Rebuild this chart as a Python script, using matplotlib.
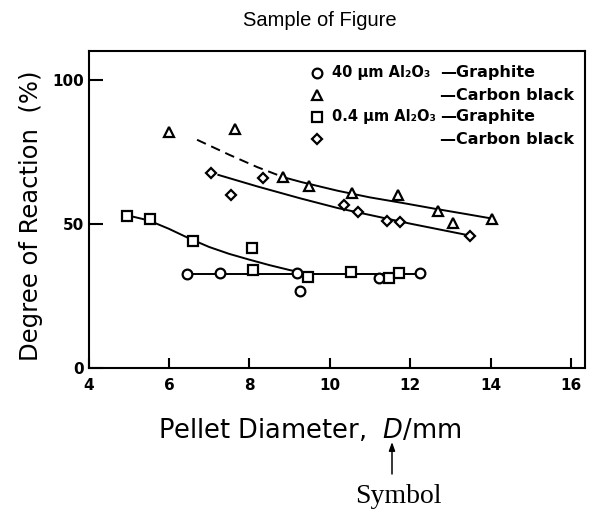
import matplotlib
matplotlib.use("Agg")
import matplotlib.pyplot as plt

# ---- data ----
# 40 um Al2O3 - Graphite (circles)
g40_x = [6.45, 7.28, 9.19, 9.27, 11.22, 12.25]
g40_y = [32.5, 33.1, 33.1, 26.7, 31.3, 32.8]
# 40 um Al2O3 - Carbon black (triangles)
cb40_x = [6.0, 7.64, 8.83, 9.49, 10.56, 11.70, 12.69, 13.07, 14.04]
cb40_y = [81.8, 82.9, 66.2, 63.2, 60.6, 60.1, 54.6, 50.2, 51.6]
# 0.4 um Al2O3 - Graphite (squares)
g04_x = [4.96, 5.54, 6.61, 8.06, 8.10, 9.45, 10.53, 11.48, 11.72]
g04_y = [52.9, 51.7, 43.9, 41.6, 34.0, 31.5, 33.2, 31.3, 32.8]
# 0.4 um Al2O3 - Carbon black (diamonds)
cb04_x = [7.04, 7.55, 8.33, 10.36, 10.71, 11.43, 11.74, 13.48]
cb04_y = [67.8, 60.1, 65.8, 56.4, 54.3, 51.0, 50.5, 45.9]

# trend curves drawn in the figure
fit_g40_x = [6.45, 12.25]
fit_g40_y = [32.5, 32.5]
fit_g04_x = [4.96, 5.5, 6.0, 6.5, 7.0, 7.5, 8.0, 8.5, 9.0, 9.5]
fit_g04_y = [53.0, 51.2, 48.3, 45.0, 42.0, 39.6, 37.6, 35.7, 34.0, 32.6]
fit_cb40_dash_x = [6.7, 7.5, 8.2, 8.85]
fit_cb40_dash_y = [79.2, 74.0, 69.7, 66.2]
fit_cb40_x = [8.85, 9.3, 10.2, 11.0, 11.8, 12.6, 13.4, 14.06]
fit_cb40_y = [66.2, 64.5, 61.5, 59.2, 57.3, 55.3, 53.4, 51.8]
fit_cb04_x = [7.23, 8.2, 9.26, 10.2, 11.3, 12.0, 13.4]
fit_cb04_y = [67.0, 63.0, 58.9, 55.5, 52.2, 50.1, 46.2]

x_ticks = [4, 6, 8, 10, 12, 14, 16]
y_ticks = [0, 50, 100]

legend_rows = [
    ("o", "40 µm Al₂O₃", "—Graphite"),
    ("^", "", "—Carbon black"),
    ("s", "0.4 µm Al₂O₃", "—Graphite"),
    ("D", "", "—Carbon black"),
]

# ---- figure ----
W, H = 589, 509
fig = plt.figure(figsize=(W / 100, H / 100), dpi=100)
L, R, T, B = 88.5, 585, 51, 368
ax = fig.add_axes([L / W, 1 - B / H, (R - L) / W, (B - T) / H])

lw = 1.4
mk = dict(color="black", markerfacecolor="white", markeredgecolor="black",
          markeredgewidth=1.6, linestyle="none", zorder=3)

# curves
ax.plot(fit_g40_x, fit_g40_y, color="black", lw=lw, zorder=2)
ax.plot(fit_g04_x, fit_g04_y, color="black", lw=lw, zorder=2)
ax.plot(fit_cb40_dash_x, fit_cb40_dash_y, color="black", lw=lw,
        linestyle=(0, (5, 3)), zorder=2)
ax.plot(fit_cb40_x, fit_cb40_y, color="black", lw=lw, zorder=2)
ax.plot(fit_cb04_x, fit_cb04_y, color="black", lw=lw, zorder=2)

# markers
ax.plot(g40_x, g40_y, marker="o", markersize=7, **mk)
ax.plot(cb40_x, cb40_y, marker="^", markersize=7.5, **mk)
ax.plot(g04_x, g04_y, marker="s", markersize=7, **mk)
ax.plot(cb04_x, cb04_y, marker="D", markersize=5, **mk)

ax.set_xlim(4, 16.35)
ax.set_ylim(0, 110)
ax.set_xticks(x_ticks)
ax.set_yticks(y_ticks)
ax.set_xticklabels([str(v) for v in x_ticks])
ax.set_yticklabels([str(v) for v in y_ticks])

for s in ax.spines.values():
    s.set_linewidth(1.5)
ax.tick_params(axis="x", direction="in", length=7, width=1.5, pad=7,
               labelsize=11)
ax.tick_params(axis="y", direction="in", length=10, width=1.5, pad=3,
               labelsize=11)
for lab in ax.get_xticklabels() + ax.get_yticklabels():
    lab.set_fontweight("bold")
    lab.set_family("DejaVu Sans")

ax.set_ylabel("Degree of Reaction  (%)", fontsize=17.5, family="DejaVu Sans")
ax.yaxis.set_label_coords((43 - L) / (R - L), (B - 216) / (B - T))
ax.set_xlabel("Pellet Diameter,  $\\it{D}$/mm", fontsize=18.5,
              family="DejaVu Sans")
ax.xaxis.set_label_coords((310 - L) / (R - L), (B - 417) / (B - T))

# legend drawn as text
row_y = [73, 95, 117, 139]
sizes = {"o": 7, "^": 7.5, "s": 7, "D": 5}
for (m, label, kind), yp in zip(legend_rows, row_y):
    ya = (B - yp) / (B - T)
    ax.plot([(317 - L) / (R - L)], [ya], marker=m, markersize=sizes[m],
            transform=ax.transAxes, clip_on=False, **mk)
    if label:
        ax.text((332 - L) / (R - L), ya, label, transform=ax.transAxes,
                fontsize=10.5, fontweight="bold", family="DejaVu Sans",
                va="center", ha="left")
    ax.text((440 - L) / (R - L), ya, kind, transform=ax.transAxes,
            fontsize=11.5, fontweight="bold", family="DejaVu Sans",
            va="center", ha="left")

# title
fig.text(320 / W, 1 - 21 / H, "Sample of Figure", fontsize=14.5,
         family="Liberation Sans", ha="center", va="center")

# arrow and "Symbol"
fig.text(398 / W, 1 - 503 / H, "Symbol", fontsize=20,
         family="Liberation Serif", ha="center", va="baseline")
ax.annotate("", xy=(392 / W, 1 - 442 / H), xytext=(392 / W, 1 - 474 / H),
            xycoords="figure fraction", textcoords="figure fraction",
            arrowprops=dict(arrowstyle="-|>,head_length=0.5,head_width=0.18",
                            lw=1.1, color="black", shrinkA=0, shrinkB=0))

fig.savefig("out.png", dpi=100)
